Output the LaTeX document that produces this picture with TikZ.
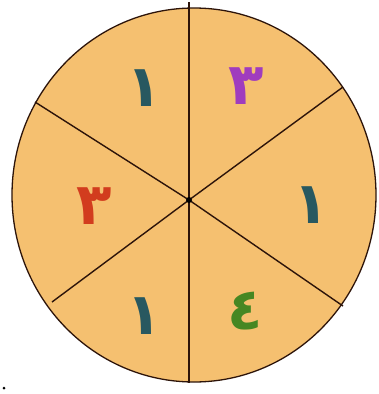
\documentclass[tikz,border=0pt]{standalone}
\usepackage{fontspec}
\newfontfamily\arabicfont[Script=Arabic]{DejaVu Sans}
\TeXXeTstate=1
\usetikzlibrary{calc}
\definecolor{wheelfill}{RGB}{245,192,112}
\definecolor{wheelline}{RGB}{45,20,10}
\definecolor{digteal}{RGB}{40,88,96}
\definecolor{digpurple}{RGB}{160,60,190}
\definecolor{digred}{RGB}{210,60,30}
\definecolor{diggreen}{RGB}{70,135,35}
\tikzset{digit/.style={font=\arabicfont\bfseries\fontsize{58}{58}\selectfont,inner sep=0pt}}

\begin{document}
\begin{tikzpicture}[x=1pt,y=-1pt]
  \useasboundingbox (0,0) rectangle (378,394);
  \fill[white] (0,0) rectangle (378,394);
  \draw[wheelline,line width=1.3pt,fill=wheelfill] (194,195) ellipse [x radius=182,y radius=187];
  \coordinate (hub) at (189,200);
  \coordinate (ul) at (35,102);
  \coordinate (ur) at (343,87);
  \coordinate (ll) at (52,302);
  \coordinate (lr) at (343,306);
  \draw[wheelline,line width=2.6pt] (189,2) -- (189,383);
  \draw[wheelline,line width=1.4pt] (ul) -- (hub) -- (lr);
  \draw[wheelline,line width=1.4pt] (ur) -- (hub) -- (ll);
  \fill[black] (hub) circle (3);
  \node[digit,text=digteal] (topleft) at (144,88) {\beginR ١\endR};
  \node[digit,text=digpurple] (topright) at (246,86) {\beginR ٣\endR};
  \node[digit,text=digred] (left) at (94,206) {\beginR ٣\endR};
  \node[digit,text=digteal] (right) at (311,205) {\beginR ١\endR};
  \node[digit,text=digteal] (botleft) at (144,316) {\beginR ١\endR};
  \node[digit,text=diggreen] (botright) at (245,311) {\beginR ٤\endR};
  \fill[black] (4,388) circle (1.5);
\end{tikzpicture}
\end{document}
